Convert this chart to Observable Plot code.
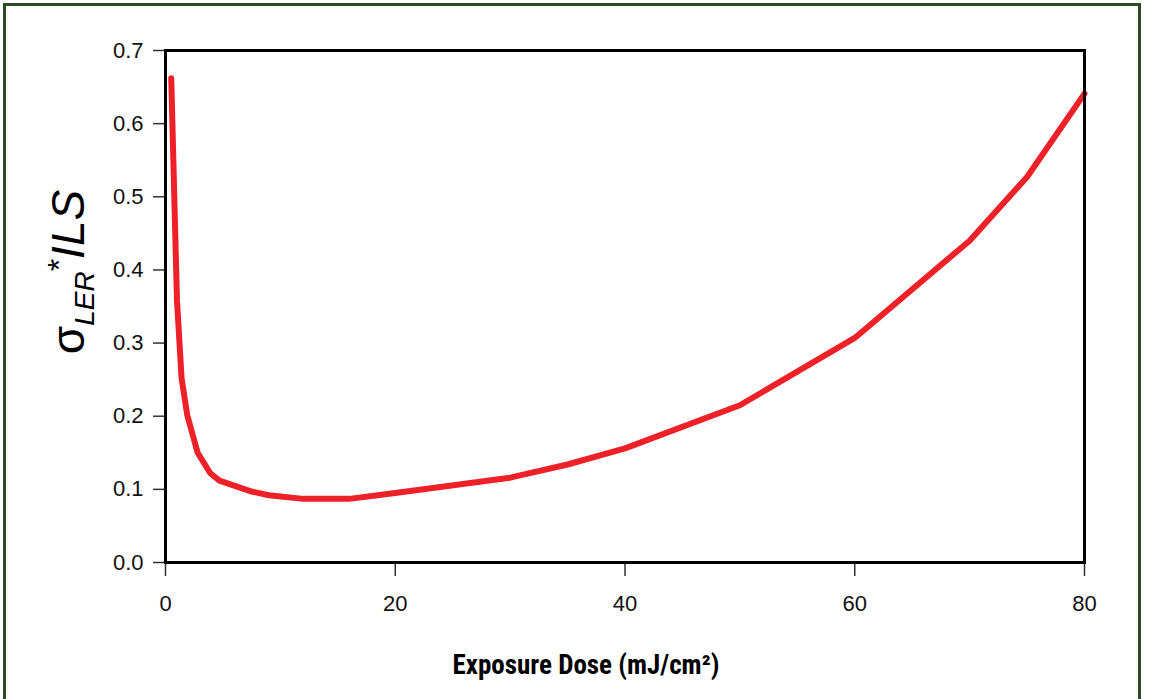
<!DOCTYPE html>
<html>
<head>
<meta charset="utf-8">
<script src="https://cdn.jsdelivr.net/npm/d3@7"></script>
<script src="https://cdn.jsdelivr.net/npm/@observablehq/plot@0.6"></script>
<style>
  html, body { margin: 0; padding: 0; background: #fff; overflow: hidden; }
  #wrap { position: relative; width: 1150px; height: 699px; }
  #border { position: absolute; left: 3px; top: 3px; width: 1138px; height: 720px; border: 3px solid #2e4a24; box-sizing: border-box; pointer-events: none; }
  #chart { position: absolute; left: 0; top: 0; }
</style>
</head>
<body>
<div id="wrap">
  <div id="chart"></div>
  <div id="border"></div>
</div>
<script>
// Exposure dose (mJ/cm²)
const dose = [0.5, 1, 1.4, 1.9, 2.8, 3.9, 4.7, 7.5, 9, 12, 16, 20, 30, 35, 40, 50, 60, 70, 75, 80];
// σ_LER * ILS
const sigmaIls = [0.662, 0.358, 0.252, 0.201, 0.150, 0.122, 0.112, 0.097, 0.092, 0.087, 0.087, 0.095, 0.116, 0.134, 0.156, 0.215, 0.307, 0.440, 0.527, 0.641];
const xTicks = [0, 20, 40, 60, 80];
const yTicks = [0, 0.1, 0.2, 0.3, 0.4, 0.5, 0.6, 0.7];
const xLabel = "Exposure Dose (mJ/cm²)";

const data = dose.map((d, i) => ({dose: d, value: sigmaIls[i]}));
const font = "'Liberation Sans', Arial, sans-serif";

const plot = Plot.plot({
  width: 1150,
  height: 699,
  marginLeft: 165,
  marginRight: 66,
  marginTop: 50,
  marginBottom: 137,
  style: {fontFamily: font, background: "transparent"},
  x: {domain: [0, 80], ticks: xTicks, label: null},
  y: {domain: [0, 0.7], ticks: yTicks, label: null},
  marks: [
    Plot.line(data, {x: "dose", y: "value", stroke: "#ee2129", strokeWidth: 6, strokeLinejoin: "round", strokeLinecap: "round"}),
    Plot.axisX({ticks: xTicks, tickSize: 14, stroke: "#333", strokeWidth: 1.5, tickFormat: () => "", label: null}),
    Plot.axisY({ticks: yTicks, tickSize: 12, stroke: "#333", strokeWidth: 1.5, tickFormat: () => "", label: null}),
    Plot.text(xTicks, {x: d => d, frameAnchor: "bottom", dy: 48, text: d => d3.format("d")(d), fontSize: 22, fill: "#111", fontFamily: font}),
    Plot.text(yTicks, {y: d => d, frameAnchor: "left", dx: -22, textAnchor: "end", text: d => d3.format(".1f")(d), fontSize: 22, fill: "#111", fontFamily: font}),
    Plot.frame({stroke: "#000", strokeWidth: 3})
  ]
});
document.getElementById("chart").appendChild(plot);

const svg = d3.select(plot);

// x axis title
svg.append("text")
  .attr("x", 586).attr("y", 674)
  .attr("text-anchor", "middle")
  .style("font-family", "'Liberation Sans Narrow', 'Roboto Condensed', 'Liberation Sans', sans-serif")
  .style("font-stretch", "condensed")
  .style("font-weight", "bold")
  .style("font-size", "27px")
  .attr("fill", "#000")
  .text(xLabel);

// y axis title: σ_LER*ILS
const yt = svg.append("text")
  .attr("transform", "translate(84,272) rotate(-90)")
  .attr("text-anchor", "middle")
  .style("font-family", font)
  .style("font-size", "46px")
  .attr("fill", "#000");
yt.append("tspan").text("σ");
yt.append("tspan").attr("dy", 10).style("font-size", "28px").style("font-style", "italic").text("LER");
yt.append("tspan").attr("dy", -24).style("font-size", "32px").text("*");
yt.append("tspan").attr("dy", 14).style("font-style", "italic").text("ILS");
</script>
</body>
</html>
